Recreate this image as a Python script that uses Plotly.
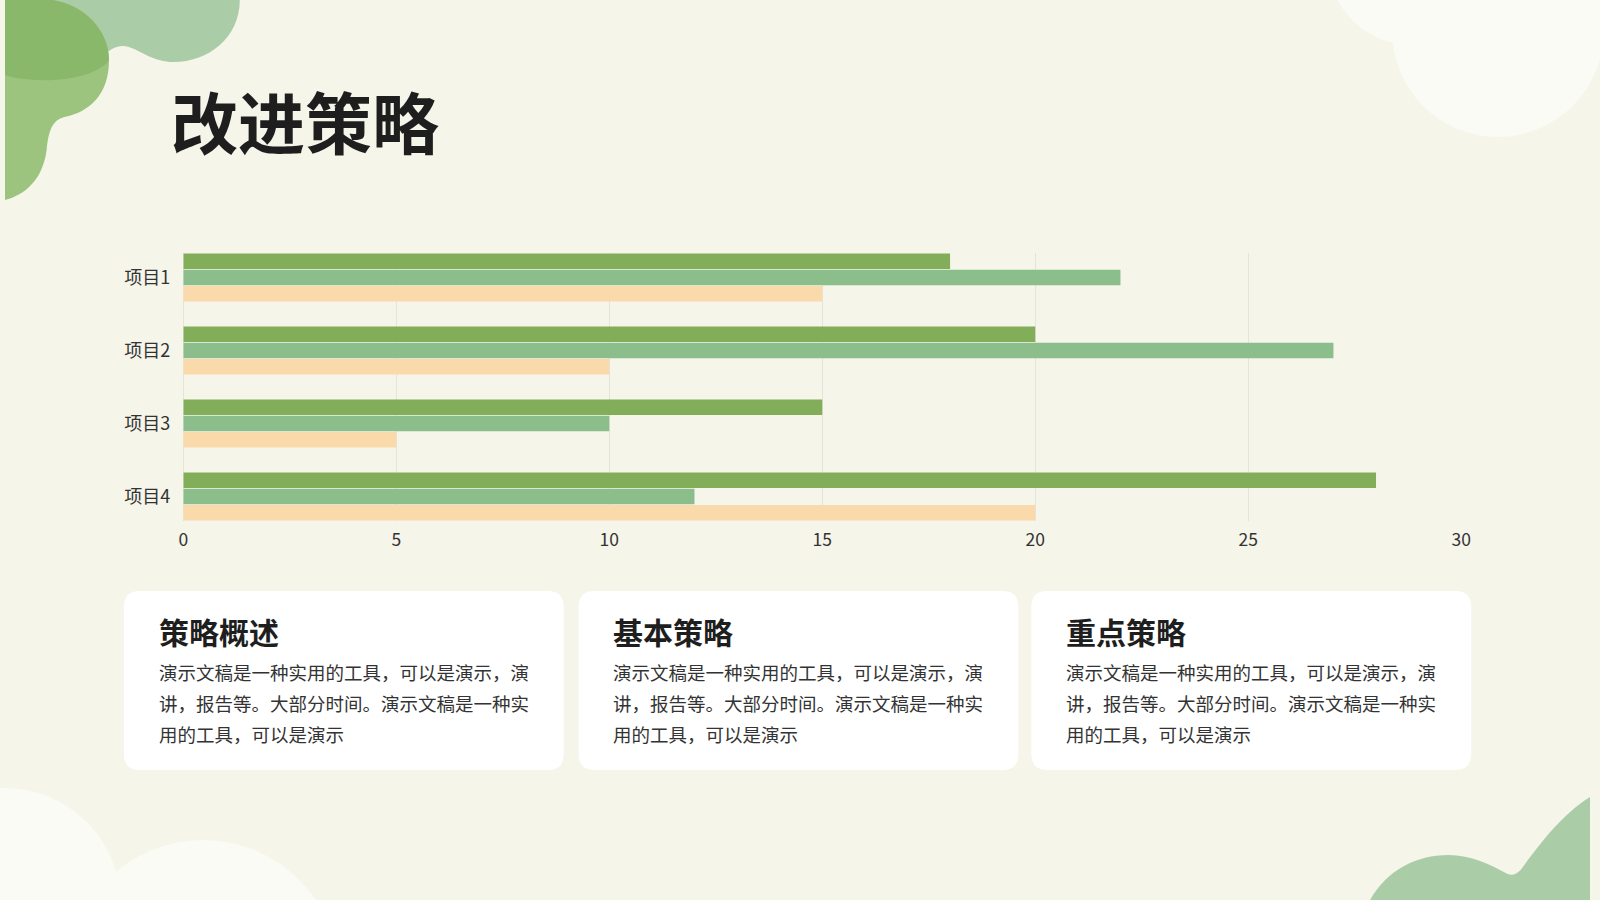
import plotly.graph_objects as go

W, H = 1600, 900

categories = ["项目1", "项目2", "项目3", "项目4"]
series_a = [18, 20, 15, 28]
series_b = [22, 27, 10, 12]
series_c = [15, 10, 5, 20]
x_ticks = [0, 5, 10, 15, 20, 25, 30]

card_titles = ["策略概述", "基本策略", "重点策略"]
card_lines = [
    "演示文稿是一种实用的工具，可以是演示，演",
    "讲，报告等。大部分时间。演示文稿是一种实",
    "用的工具，可以是演示",
]

FONT = "Noto Sans CJK SC"
BG = "#F5F5EA"


def px(x, y):
    # pixel position -> paper coords (margins are zero)
    return "%.5f,%.5f" % (x / W, 1 - y / H)


def path(cmds):
    out = []
    for c, pts in cmds:
        if c == "Z":
            out.append("Z")
        else:
            out.append(c + " " + " ".join(px(*p) for p in pts))
    return " ".join(out)


def rrect(x0, y0, x1, y1, r):
    return path([
        ("M", [(x0 + r, y0)]), ("L", [(x1 - r, y0)]), ("Q", [(x1, y0), (x1, y0 + r)]),
        ("L", [(x1, y1 - r)]), ("Q", [(x1, y1), (x1 - r, y1)]),
        ("L", [(x0 + r, y1)]), ("Q", [(x0, y1), (x0, y1 - r)]),
        ("L", [(x0, y0 + r)]), ("Q", [(x0, y0), (x0 + r, y0)]), ("Z", []),
    ])


def circle(cx, cy, r, color):
    return dict(type="circle", xref="paper", yref="paper", layer="below",
                x0=(cx - r) / W, x1=(cx + r) / W, y0=1 - (cy + r) / H, y1=1 - (cy - r) / H,
                fillcolor=color, line=dict(width=0))


def blob(p, color):
    return dict(type="path", xref="paper", yref="paper", layer="below", path=p,
                fillcolor=color, line=dict(width=0))


fig = go.Figure()

colors = ["#82AE5A", "#8BBE8A", "#FADAAB"]
for vals, col in zip([series_a, series_b, series_c], colors):
    fig.add_trace(go.Bar(
        y=categories, x=vals, orientation="h",
        marker=dict(color=col, line=dict(width=0)),
        showlegend=False, hoverinfo="x+y",
    ))

shapes = []
# top-left green blobs
shapes.append(blob(path([
    ("M", [(40, 0)]), ("L", [(237, 0)]),
    ("C", [(237, 38), (205, 62), (170, 62)]),
    ("C", [(150, 62), (140, 52), (125, 47)]),
    ("C", [(115, 44), (108, 48), (100, 55)]),
    ("L", [(60, 40)]), ("Z", []),
]), "#AACDA8"))
shapes.append(blob(path([
    ("M", [(0, 0)]), ("L", [(48, 0)]),
    ("C", [(80, 5), (105, 30), (105, 60)]),
    ("C", [(105, 95), (85, 112), (60, 117)]),
    ("C", [(48, 120), (44, 130), (42, 150)]),
    ("C", [(38, 180), (20, 195), (0, 200)]), ("Z", []),
]), "#9DC47E"))
shapes.append(blob(path([
    ("M", [(0, 0)]), ("L", [(48, 0)]),
    ("C", [(80, 5), (105, 30), (105, 60)]),
    ("C", [(95, 75), (60, 82), (30, 80)]),
    ("C", [(15, 79), (5, 77), (0, 75)]), ("Z", []),
]), "#8AB86A"))
# top-right pale cloud
shapes.append(circle(1420, -40, 85, "#FBFBF5"))
shapes.append(circle(1507, 30, 107, "#FBFBF5"))
# bottom-left pale cloud
shapes.append(circle(0, 905, 117, "#FBFBF5"))
shapes.append(circle(200, 978, 138, "#FBFBF5"))
# bottom-right green
shapes.append(blob(path([
    ("M", [(1378, 900)]),
    ("C", [(1395, 870), (1425, 855), (1457, 855)]),
    ("C", [(1480, 855), (1500, 865), (1515, 873)]),
    ("C", [(1520, 876), (1525, 875), (1530, 870)]),
    ("C", [(1545, 850), (1570, 815), (1600, 797)]),
    ("L", [(1600, 900)]), ("Z", []),
]), "#AACDA8"))

annotations = [dict(
    text="改进策略", xref="paper", yref="paper", x=166 / W, y=1 - 120 / H,
    xanchor="left", yanchor="middle", showarrow=False,
    font=dict(family=FONT, size=67, color="#1E1E1E", weight="bold"),
)]

card_x = [120, 579, 1036]
card_w = 444
for cx, title in zip(card_x, card_titles):
    shapes.append(dict(type="path", xref="paper", yref="paper", layer="below",
                       path=rrect(cx, 591, cx + card_w, 770, 16),
                       fillcolor="#FFFFFF", line=dict(width=0)))
    annotations.append(dict(
        text=title, xref="paper", yref="paper", x=(cx + 33) / W, y=1 - 631 / H,
        xanchor="left", yanchor="middle", showarrow=False,
        font=dict(family=FONT, size=30, color="#1E1E1E", weight="bold"),
    ))
    for i, line in enumerate(card_lines):
        annotations.append(dict(
            text=line, xref="paper", yref="paper", x=(cx + 33) / W, y=1 - (672 + 31 * i) / H,
            xanchor="left", yanchor="middle", showarrow=False,
            font=dict(family=FONT, size=18.5, color="#333333"),
        ))

fig.update_layout(
    width=W, height=H,
    margin=dict(l=0, r=0, t=0, b=0),
    paper_bgcolor=BG, plot_bgcolor=BG,
    barmode="group", bargap=0.33, bargroupgap=0.05,
    font=dict(family=FONT, color="#333333"),
    shapes=shapes, annotations=annotations,
    xaxis=dict(
        domain=[180 / W, 1470 / W], range=[0, 30], tickvals=x_ticks,
        showgrid=True, gridcolor="#E4E4D8", gridwidth=1,
        zeroline=True, zerolinecolor="#E4E4D8", zerolinewidth=1,
        showline=False, ticks="", ticklabelstandoff=6,
        tickfont=dict(family=FONT, size=17.5, color="#333333"),
    ),
    yaxis=dict(
        domain=[1 - 521 / H, 1 - 253 / H], range=[3.336, -0.336],
        type="category", showgrid=False, zeroline=False, showline=False,
        ticks="", ticklabelstandoff=12,
        tickfont=dict(family=FONT, size=18, color="#333333"),
    ),
)

# page styling: no body margin, page exactly the figure size
page_css = (
    "var s=document.createElement('style');"
    "s.textContent='html,body{margin:0;padding:0;width:1600px;height:900px;"
    "overflow:hidden;background:%s;}';"
    "document.head.appendChild(s);" % BG
)
fig.write_html("out.html", config={"displayModeBar": False}, post_script=page_css)
